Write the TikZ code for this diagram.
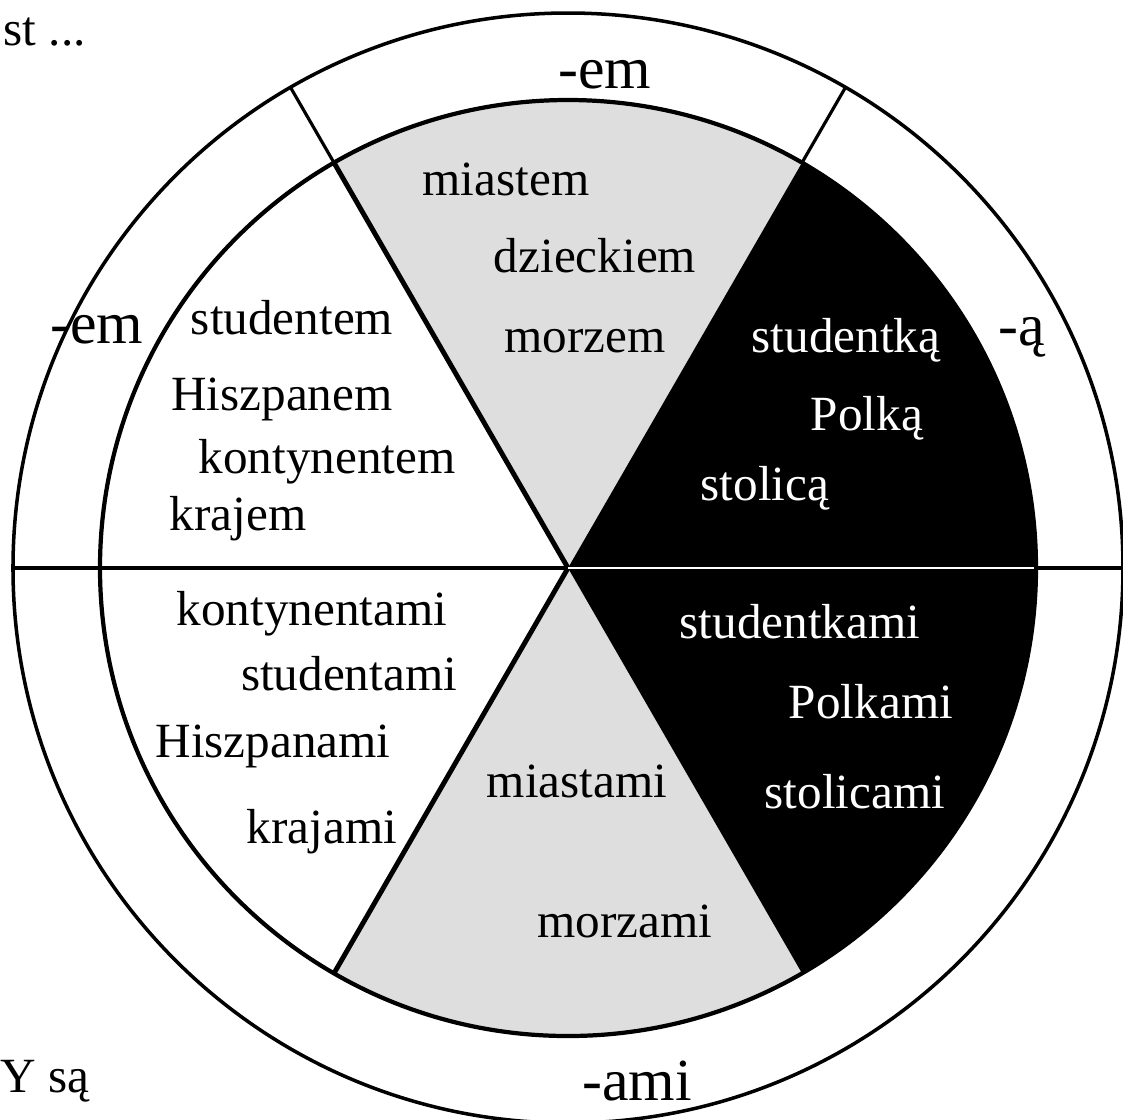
\documentclass[tikz,border=0pt]{standalone}
\usepackage{fontspec}
\setmainfont{Liberation Serif}
\usetikzlibrary{positioning,calc}
\definecolor{wsink}{HTML}{000000}
\definecolor{wsgrey}{HTML}{DEDEDE}
\definecolor{wspaper}{HTML}{FFFFFF}
\newcommand{\wsrin}{4.68}
\newcommand{\wsrout}{5.55}
\newcommand{\wssector}[3]{%
  \fill[#1] (c) -- (#2:\wsrin) arc[start angle=#2,end angle=#3,radius=\wsrin] -- cycle;
}
\tikzset{
  word/.style={font=\fontsize{14}{16}\selectfont,inner sep=0pt,anchor=base},
  ending/.style={font=\fontsize{17}{20}\selectfont,inner sep=0pt,anchor=base},
}

\begin{document}
\begin{tikzpicture}
  % ---------- page ----------
  \useasboundingbox (-5.68,-5.51) rectangle (5.55,5.68);
  \fill[wspaper] (-5.68,-5.51) rectangle (5.55,5.68);
  \coordinate (c) at (0,0);
  % ---------- sectors ----------
  \wssector{wsgrey}{60}{120}
  \wssector{wsgrey}{240}{300}
  \wssector{wsink}{0}{60}
  \wssector{wsink}{-60}{0}
  % ---------- rims and spokes ----------
  \draw[wsink,line width=1pt] (c) circle (\wsrout);
  \draw[wsink,line width=1.2pt] (c) circle (\wsrin);
  \foreach \aa in {120,180,240}{\draw[wsink,line width=1.4pt] (c) -- (\aa:\wsrin);}
  \draw[wspaper,line width=0.6pt] (c) -- (0:\wsrin-0.02);
  \foreach \aa in {0,60,120,180}{\draw[wsink,line width=0.9pt] (\aa:\wsrin) -- (\aa:\wsrout);}
  % ---------- endings in the ring ----------
  \node[ending] (emtop) at (0.37,4.80){-em};
  \node[ending] (emleft) at (-4.71,2.25){-em};
  \node[ending] (aright) at (4.54,2.23){-ą};
  \node[ending] (ami) at (0.69,-5.32){-ami};
  % ---------- page remnants ----------
  \node[word,anchor=base west] (pgtop) at (-5.65,5.23){st ...};
  \node[word,anchor=base west] (pgbot) at (-5.68,-5.24){Y są};
  % ---------- white sectors ----------
  \foreach \ri/\xx/\yy/\wrd in {1/-2.76/2.34/studentem,2/-2.86/1.58/Hiszpanem,
                     3/-2.41/0.95/kontynentem,4/-3.30/0.38/krajem}{
     \node[word] (ul\ri) at (\xx,\yy){\wrd};}
  \foreach \ri/\xx/\yy/\wrd in {1/-2.56/-0.57/kontynentami,2/-2.19/-1.22/studentami,
                     3/-2.95/-1.89/Hiszpanami,4/-2.46/-2.75/krajami}{
     \node[word] (ll\ri) at (\xx,\yy){\wrd};}
  % ---------- grey sectors ----------
  \foreach \ri/\xx/\yy/\wrd in {1/-0.62/3.73/miastem,2/0.27/2.96/dzieckiem,3/0.17/2.16/morzem,
                     4/0.09/-2.29/miastami,5/0.57/-3.69/morzami}{
     \node[word] (gr\ri) at (\xx,\yy){\wrd};}
  % ---------- black sectors ----------
  \foreach \ri/\xx/\yy/\wrd in {1/2.78/2.16/studentką,2/2.99/1.38/Polką,3/1.97/0.68/stolicą,
                     4/2.32/-0.70/studentkami,5/3.03/-1.50/Polkami,6/2.87/-2.40/stolicami}{
     \node[word,text=wspaper] (bk\ri) at (\xx,\yy){\wrd};}
\end{tikzpicture}
\end{document}
